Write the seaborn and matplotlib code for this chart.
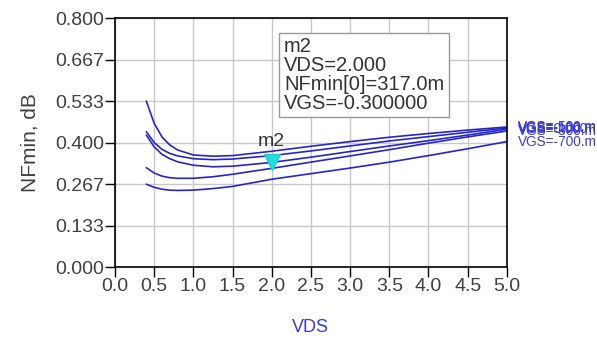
import numpy as np
import pandas as pd
import matplotlib
matplotlib.use("Agg")
import matplotlib.pyplot as plt
import matplotlib.transforms as mtrans
import seaborn as sns

# swept VDS points and NFmin per VGS curve
vds = [0.4, 0.5, 0.6, 0.7, 0.8, 1.0, 1.25, 1.5, 2.0, 2.5, 3.0, 3.5, 4.0, 4.5, 5.0]
vgs_labels = ["VGS=-500.m", "VGS=-100.m", "VGS=0.000", "VGS=-300.m", "VGS=-700.m"]
nf_a = [0.533, 0.462, 0.418, 0.392, 0.376, 0.360, 0.356, 0.358, 0.372, 0.388, 0.403, 0.417, 0.429, 0.440, 0.450]
nf_b = [0.435, 0.400, 0.378, 0.365, 0.357, 0.348, 0.345, 0.347, 0.358, 0.373, 0.389, 0.405, 0.419, 0.433, 0.447]
nf_c = [0.424, 0.386, 0.362, 0.348, 0.338, 0.327, 0.322, 0.324, 0.336, 0.353, 0.371, 0.389, 0.406, 0.424, 0.443]
nf_d = [0.319, 0.302, 0.292, 0.287, 0.285, 0.285, 0.290, 0.298, 0.317, 0.337, 0.357, 0.377, 0.398, 0.418, 0.437]
nf_e = [0.266, 0.256, 0.250, 0.247, 0.246, 0.247, 0.252, 0.259, 0.282, 0.300, 0.318, 0.337, 0.358, 0.380, 0.403]
curves = [nf_a, nf_b, nf_c, nf_d, nf_e]

# marker m2
m2_vds = 2.0
m2_nf = 0.317
m2_lines = ["m2", "VDS=2.000", "NFmin[0]=317.0m", "VGS=-0.300000"]

xticks = np.arange(0, 5.01, 0.5)
yticks = np.linspace(0, 0.8, 7)

rows = []
for lab, vals in zip(vgs_labels, curves):
    for x, y in zip(vds, vals):
        rows.append({"VDS": x, "NFmin": y, "VGS": lab})
df = pd.DataFrame(rows)

sns.set_style("white")
plt.rcParams['font.family'] = ['Liberation Sans', 'DejaVu Sans']

fig = plt.figure(figsize=(5.97, 3.41), dpi=100)
ax = fig.add_axes([0.1926, 0.217, 0.849 - 0.1926, 0.947 - 0.217])

line_col = "#2626c8"
sns.lineplot(data=df, x="VDS", y="NFmin", hue="VGS", hue_order=vgs_labels,
             palette=[line_col] * len(vgs_labels), linewidth=1.2, legend=False,
             ax=ax, sort=False)

ax.set_xlim(0, 5)
ax.set_ylim(0, 0.8)
ax.set_xticks(xticks)
ax.set_xticklabels(["%.1f" % t for t in xticks])
ax.set_yticks(yticks)
ax.set_yticklabels(["%.3f" % t for t in yticks])
ax.set_yticks(yticks[:-1] + (yticks[1] - yticks[0]) / 2, minor=True)
ax.grid(True, which="major", color="#c8c8c8", linewidth=1.0)
ax.set_axisbelow(True)
for s in ax.spines.values():
    s.set_color("black")
    s.set_linewidth(1.2)
ax.tick_params(axis="both", which="major", direction="out", length=7, width=1,
               color="black", labelsize=14, labelcolor="#404040", pad=1)
ax.tick_params(axis="y", which="minor", direction="out", length=4, width=1, color="black")
ax.tick_params(left=True, bottom=True)

ax.set_xlabel("VDS", fontsize=13, color="#3a3acc", labelpad=17)
ax.set_ylabel("NFmin, dB", fontsize=15, color="#404040", labelpad=11)

# curve-end labels
for lab, vals in zip(vgs_labels, curves):
    ax.annotate(lab, xy=(vds[-1], vals[-1]), xytext=(8, 0), textcoords="offset points",
                fontsize=9.8, color="#3a3ad0", va="center", ha="left",
                annotation_clip=False)

# marker m2
off = mtrans.offset_copy(ax.transData, fig=fig, x=0, y=6, units="dots")
ax.plot([m2_vds], [m2_nf], marker="v", markersize=11, color="#22dddd",
        markeredgecolor="#22cccc", transform=off, zorder=5)
ax.annotate("m2", xy=(m2_vds, m2_nf), xytext=(0, 13), textcoords="offset points",
            fontsize=14, color="#333333", ha="center", va="bottom")

ax.text(0.431, 0.922, "\n".join(m2_lines), transform=ax.transAxes, fontsize=14.5,
        color="#333333", va="top", ha="left", linespacing=0.98,
        bbox=dict(boxstyle="square,pad=0.22", facecolor="white", edgecolor="#999999",
                  linewidth=1.0))

fig.savefig("out.png", dpi=100)
